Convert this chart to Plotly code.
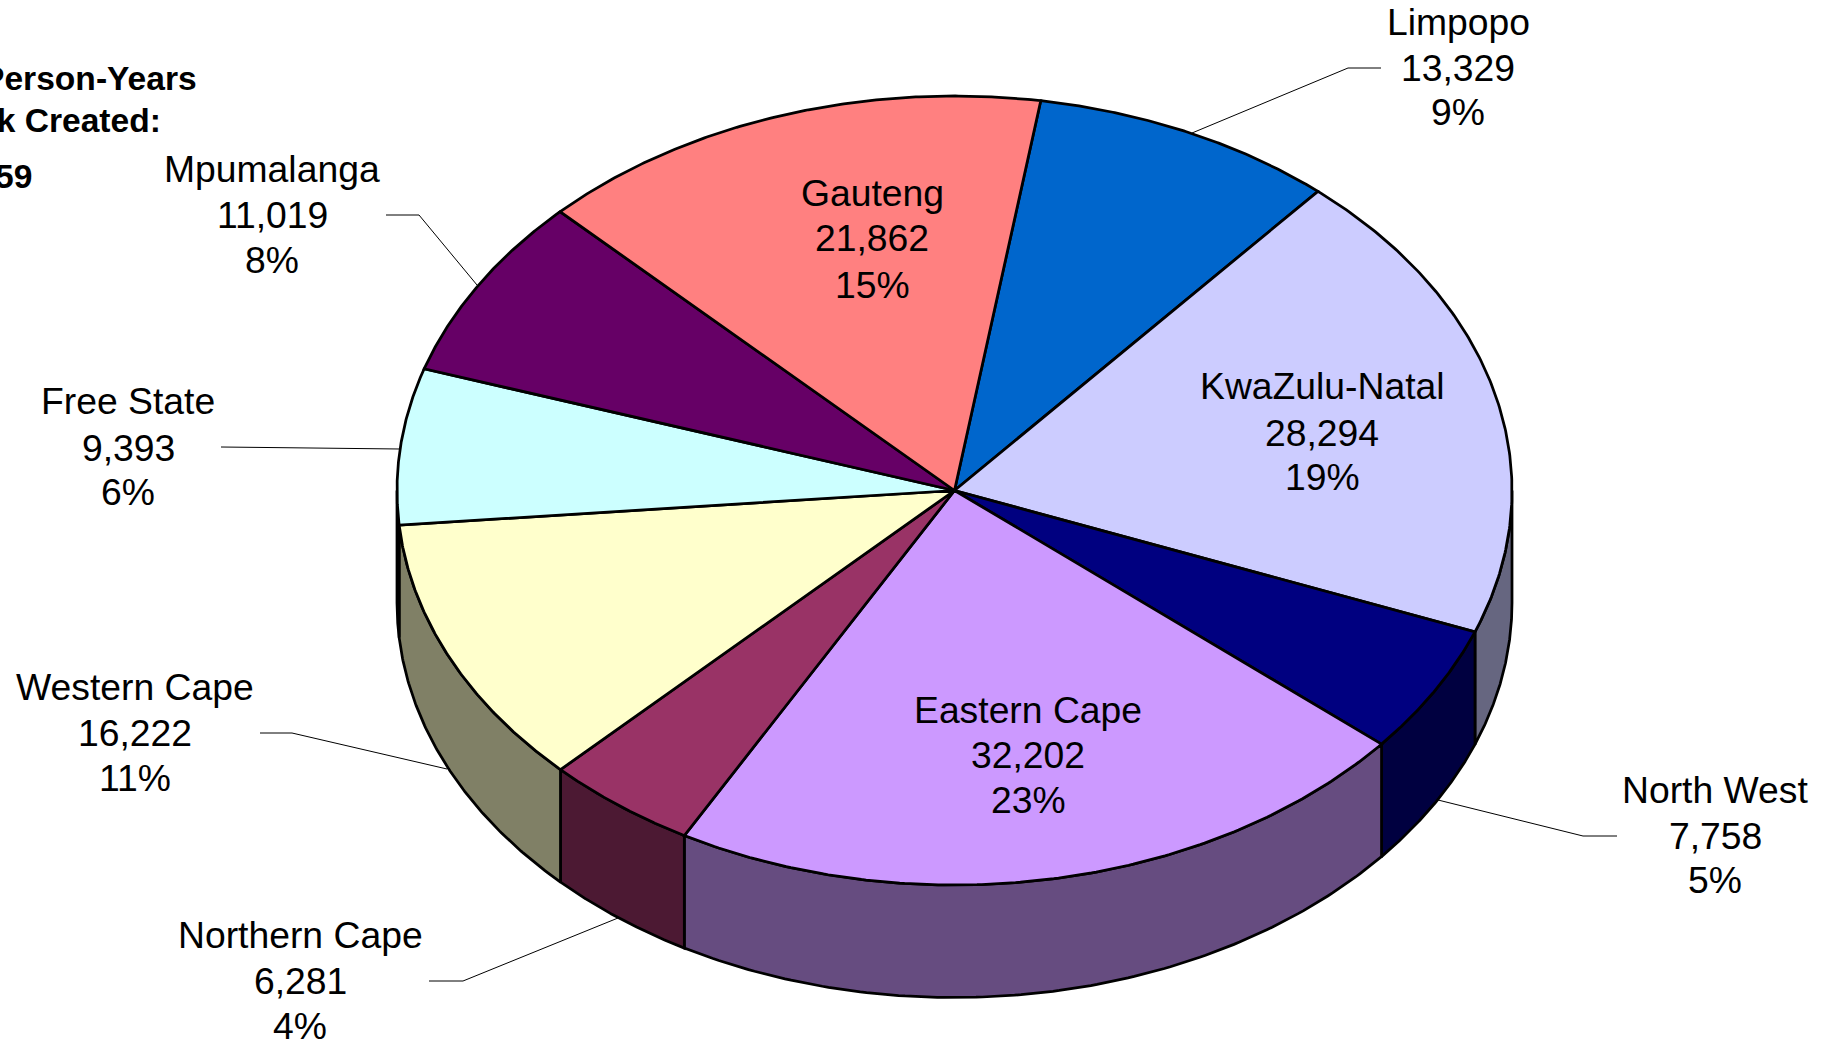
import numpy as np
import plotly.graph_objects as go

##### Data #####

provinces = ["Limpopo", "KwaZulu-Natal", "North West", "Eastern Cape", "Northern Cape",
             "Western Cape", "Free State", "Mpumalanga", "Gauteng"]
person_years = [13329, 28294, 7758, 32202, 6281, 16222, 9393, 11019, 21862]
percent_labels = ["9%", "19%", "5%", "23%", "4%", "11%", "6%", "8%", "15%"]

# Share of the circle each slice takes as drawn in the picture (%), the perspective
# of the original skews these a little from person_years
drawn_shares = [8.83, 19.53, 5.28, 21.94, 4.44, 11.11, 6.39, 7.50, 14.98]

top_colors = ["#0066CC", "#CCCCFF", "#000080", "#CC99FF", "#993366",
              "#FFFFCC", "#CCFFFF", "#660066", "#FF8080"]
side_colors = ["#003366", "#666680", "#000040", "#664C80", "#4C1933",
               "#808066", "#668080", "#330033", "#804040"]

# Where the three label lines sit (x centre, first / second / third line y)
label_x = [1458, 1322, 1715, 1028, 300, 135, 128, 272, 872]
label_y = [[22, 68, 112], [386, 433, 477], [790, 836, 880], [710, 755, 800], [935, 981, 1026],
           [687, 733, 778], [401, 448, 492], [169, 215, 260], [193, 238, 285]]

# Leader lines, label end first
leaders = {
    "Limpopo": ([1381, 1348, 1192], [68, 68, 133]),
    "North West": ([1617, 1583, 1438], [836, 836, 800]),
    "Northern Cape": ([429, 463, 618], [981, 981, 918]),
    "Western Cape": ([260, 292, 447], [733, 733, 769]),
    "Free State": ([221, 400], [447, 449]),
    "Mpumalanga": ([386, 419, 477], [215, 215, 285]),
}

title_lines = ["Total Person-Years", "of Work Created:", "146,359"]
title_right = [199, 163, 34]
title_y = [78, 120, 176]

##### Pie geometry #####

CX, CY = 954.5, 490.5
RX, RY = 557.5, 394.5
DEPTH = 112.5
START_DEG = 8.9
LINE_W = 2.75
FONT = "Liberation Sans, Arial, sans-serif"


def rim(deg, drop=0):
    a = np.radians(deg)
    return CX + RX * np.sin(a), CY - RY * np.cos(a) + drop


shares = np.array(drawn_shares) / sum(drawn_shares) * 360
ends = START_DEG + np.cumsum(shares)
starts = ends - shares

fig = go.Figure()

# Side walls first, only the part of each slice on the front half
for start, end, color in zip(starts, ends, side_colors):
    lo, hi = max(start, 90), min(end, 270)
    if lo >= hi:
        continue
    arc = np.linspace(lo, hi, 120)
    top_x, top_y = rim(arc)
    bot_x, bot_y = rim(arc[::-1], DEPTH)
    fig.add_trace(go.Scatter(
        x=np.r_[top_x, bot_x, top_x[0]],
        y=np.r_[top_y, bot_y, top_y[0]],
        mode="lines", fill="toself", fillcolor=color,
        line=dict(color="black", width=LINE_W),
    ))

# Slice tops
for start, end, color in zip(starts, ends, top_colors):
    arc = np.linspace(start, end, 160)
    xs, ys = rim(arc)
    fig.add_trace(go.Scatter(
        x=np.r_[CX, xs, CX],
        y=np.r_[CY, ys, CY],
        mode="lines", fill="toself", fillcolor=color,
        line=dict(color="black", width=LINE_W),
    ))

for xs, ys in leaders.values():
    fig.add_trace(go.Scatter(x=xs, y=ys, mode="lines", line=dict(color="black", width=1)))

# Labels, one annotation per line so the line spacing stays tight
for name, value, pct, x, ys in zip(provinces, person_years, percent_labels, label_x, label_y):
    for text, y in zip([name, f"{value:,}", pct], ys):
        fig.add_annotation(x=x, y=y, text=text, showarrow=False, xanchor="center", yanchor="middle",
                           font=dict(family=FONT, size=37.3, color="black"))

for text, x, y in zip(title_lines, title_right, title_y):
    fig.add_annotation(x=x, y=y, text=f"<b>{text}</b>", showarrow=False, xanchor="right", yanchor="middle",
                       font=dict(family=FONT, size=33.6, color="black"))

fig.update_layout(
    width=1830, height=1043,
    margin=dict(l=0, r=0, t=0, b=0),
    paper_bgcolor="white", plot_bgcolor="white",
    showlegend=False, hovermode=False,
    xaxis=dict(range=[0, 1830], visible=False, fixedrange=True),
    yaxis=dict(range=[1043, 0], visible=False, fixedrange=True),
)

fig.write_html("out.html", config={"displayModeBar": False},
               post_script="document.body.style.margin='0';")
